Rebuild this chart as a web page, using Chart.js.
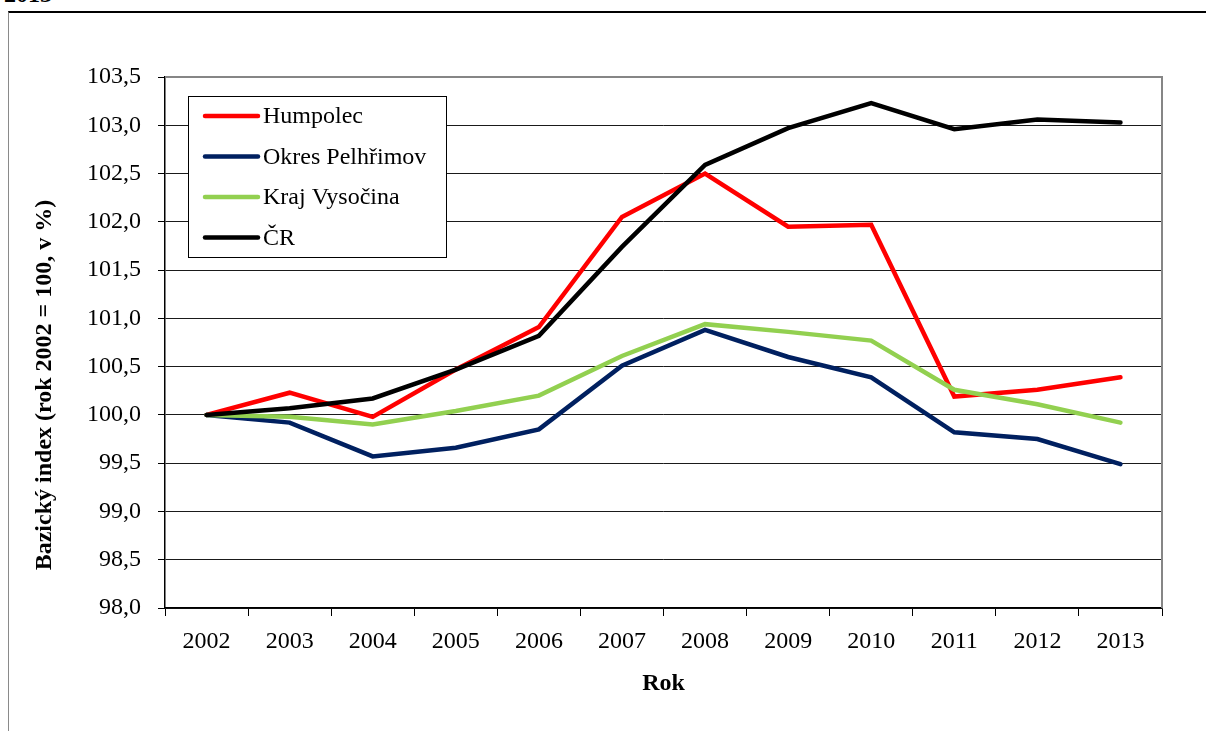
<!DOCTYPE html>
<html>
<head>
<meta charset="utf-8">
<script src="https://cdn.jsdelivr.net/npm/chart.js@4.4.1/dist/chart.umd.min.js"></script>
<style>
  html, body { margin: 0; padding: 0; background: #fff; overflow: hidden; }
  #wrap { position: relative; width: 1206px; height: 731px; overflow: hidden; }
  #frame { position: absolute; left: 8px; top: 11px; width: 1300px; height: 800px;
           border-top: 2px solid #000; border-left: 1px solid #8a8a8a; }
  #caption { position: absolute; left: 4px; top: -19px; font: bold 24px 'Liberation Serif', 'Times New Roman', serif; color: #000; }
  canvas { position: absolute; left: 0; top: 0; }
</style>
</head>
<body>
<div id="wrap">
  <div id="caption">2013</div>
  <div id="frame"></div>
  <canvas id="chart" width="1206" height="731"></canvas>
</div>
<script>
const years = ['2002', '2003', '2004', '2005', '2006', '2007', '2008', '2009', '2010', '2011', '2012', '2013'];

const humpolec  = [100.0, 100.23, 99.98, 100.47, 100.91, 102.05, 102.50, 101.95, 101.97, 100.19, 100.26, 100.39];
const pelhrimov = [100.0, 99.92, 99.57, 99.66, 99.85, 100.51, 100.88, 100.60, 100.39, 99.82, 99.75, 99.49];
const vysocina  = [100.0, 99.98, 99.90, 100.04, 100.20, 100.61, 100.94, 100.86, 100.77, 100.26, 100.11, 99.92];
const cr        = [100.0, 100.07, 100.17, 100.47, 100.82, 101.74, 102.59, 102.97, 103.23, 102.96, 103.06, 103.03];

const seriesNames = ['Humpolec', 'Okres Pelhřimov', 'Kraj Vysočina', 'ČR'];
const seriesColors = ['#ff0000', '#002060', '#92d050', '#000000'];

const yMin = 98.0;
const yMax = 103.5;
const yStep = 0.5;

const FONT = "'Liberation Serif', 'Times New Roman', serif";

// legend box drawn inside the plot area, like the Excel original
const insideLegend = {
    id: 'insideLegend',
    afterDatasetsDraw(chart) {
        const { ctx, chartArea } = chart;
        const x = chartArea.left + 23;
        const y = chartArea.top + 19;
        ctx.save();
        ctx.fillStyle = '#fff';
        ctx.fillRect(x, y, 258, 161);
        ctx.strokeStyle = '#000';
        ctx.lineWidth = 1;
        ctx.strokeRect(x + 0.5, y + 0.5, 258, 161);
        ctx.font = '24px ' + FONT;
        ctx.textBaseline = 'middle';
        ctx.lineCap = 'round';
        chart.data.datasets.forEach((ds, i) => {
            const rowY = y + 20 + i * 40.5;
            ctx.strokeStyle = ds.borderColor;
            ctx.lineWidth = 4.5;
            ctx.beginPath();
            ctx.moveTo(x + 17, rowY);
            ctx.lineTo(x + 70, rowY);
            ctx.stroke();
            ctx.fillStyle = '#000';
            ctx.fillText(ds.label, x + 75, rowY + 1);
        });
        ctx.restore();
    }
};

// gray top/right border of the plot area + rotated y title
const plotFrame = {
    id: 'plotFrame',
    beforeDatasetsDraw(chart) {
        const { ctx, chartArea } = chart;
        ctx.save();
        ctx.strokeStyle = '#868686';
        ctx.lineWidth = 2;
        ctx.beginPath();
        ctx.moveTo(chartArea.left, chartArea.top);
        ctx.lineTo(chartArea.right, chartArea.top);
        ctx.lineTo(chartArea.right, chartArea.bottom);
        ctx.stroke();
        ctx.restore();
    },
    afterDraw(chart) {
        const { ctx, chartArea } = chart;
        ctx.save();
        ctx.translate(45, chartArea.bottom - 223);
        ctx.rotate(-Math.PI / 2);
        ctx.font = 'bold 24px ' + FONT;
        ctx.fillStyle = '#000';
        ctx.textAlign = 'center';
        ctx.textBaseline = 'middle';
        ctx.fillText('Bazický index (rok 2002 = 100, v %)', 0, 0);
        ctx.restore();
    }
};

const seriesData = [humpolec, pelhrimov, vysocina, cr];

new Chart(document.getElementById('chart'), {
    type: 'line',
    data: {
        labels: years,
        datasets: seriesData.map((values, i) => ({
            label: seriesNames[i],
            data: values,
            borderColor: seriesColors[i],
            backgroundColor: seriesColors[i],
            borderWidth: 4.5,
            borderCapStyle: 'round',
            tension: 0,
            pointRadius: 0,
            fill: false,
            order: seriesData.length - i // later series on top
        }))
    },
    options: {
        responsive: false,
        animation: false,
        layout: { padding: { left: 0, top: 77, right: 44, bottom: 0 } },
        plugins: {
            legend: { display: false },
            tooltip: { enabled: false }
        },
        scales: {
            x: {
                offset: true,
                afterFit: (scale) => { scale.height = 123; },
                grid: {
                    offset: true,
                    drawOnChartArea: false,
                    tickLength: 8,
                    tickColor: '#000'
                },
                border: { color: '#000', width: 1.5 },
                ticks: {
                    color: '#000',
                    padding: 11,
                    maxRotation: 0,
                    font: { family: FONT, size: 24 }
                },
                title: {
                    display: true,
                    text: 'Rok',
                    color: '#000',
                    padding: { top: 0, bottom: 33 },
                    font: { family: FONT, size: 24, weight: 'bold' }
                }
            },
            y: {
                min: yMin,
                max: yMax,
                afterFit: (scale) => { scale.width = 165; },
                grid: {
                    color: '#1a1a1a',
                    lineWidth: 1,
                    tickLength: 7,
                    tickColor: '#000'
                },
                border: { color: '#000', width: 1.5 },
                ticks: {
                    stepSize: yStep,
                    color: '#000',
                    padding: 17,
                    font: { family: FONT, size: 24 },
                    callback: (v) => v.toFixed(1).replace('.', ',')
                }
            }
        }
    },
    plugins: [plotFrame, insideLegend]
});
</script>
</body>
</html>
